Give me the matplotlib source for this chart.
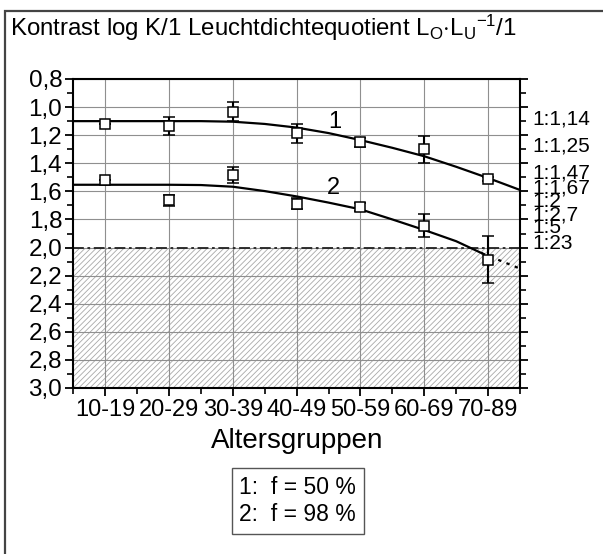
import matplotlib
matplotlib.use("Agg")
import matplotlib.pyplot as plt
from matplotlib.ticker import MultipleLocator, FixedLocator, FuncFormatter
import matplotlib.patches as mpatches

plt.rcParams['font.family'] = ['Liberation Sans', 'DejaVu Sans']
plt.rcParams['mathtext.fontset'] = 'custom'
plt.rcParams['mathtext.rm'] = 'Liberation Sans'
plt.rcParams['mathtext.it'] = 'Liberation Sans:italic'
plt.rcParams['mathtext.bf'] = 'Liberation Sans:bold'
plt.rcParams['hatch.color'] = '#a8a8a8'
plt.rcParams['hatch.linewidth'] = 0.6

# ---------------- data ----------------
categories = ["10-19", "20-29", "30-39", "40-49", "50-59", "60-69", "70-89"]
s1_values = [1.12, 1.134, 1.032, 1.186, 1.252, 1.300, 1.510]
s1_errors = [0.0, 0.066, 0.068, 0.067, 0.035, 0.097, 0.015]
s2_values = [1.522, 1.664, 1.482, 1.688, 1.712, 1.844, 2.086]
s2_errors = [0.0, 0.040, 0.059, 0.040, 0.030, 0.080, 0.166]

fit1_x = [0.5, 1.0, 1.5, 2.0, 2.5, 3.0, 3.5, 4.0, 4.5, 5.0, 5.5, 6.0, 6.5, 7.0, 7.5]
fit1_y = [1.100, 1.100, 1.100, 1.100, 1.100, 1.104, 1.120, 1.146, 1.185, 1.235, 1.290, 1.350, 1.425, 1.505, 1.590]
fit2_x = [0.5, 1.0, 1.5, 2.0, 2.5, 3.0, 3.5, 4.0, 4.5, 5.0, 5.5, 6.0, 6.5, 6.9]
fit2_y = [1.553, 1.553, 1.553, 1.553, 1.555, 1.567, 1.598, 1.636, 1.680, 1.728, 1.800, 1.875, 1.955, 2.040]
fit2_ext_x = [6.9, 7.5]
fit2_ext_y = [2.040, 2.150]

y_ticks = [0.8, 1.0, 1.2, 1.4, 1.6, 1.8, 2.0, 2.2, 2.4, 2.6, 2.8, 3.0]
right_labels = ["1:1,14", "1:1,25", "1:1,47", "1:1,67", "1:2", "1:2,7", "1:5", "1:23"]
right_label_pos = [1.086, 1.278, 1.470, 1.579, 1.671, 1.768, 1.860, 1.972]
limit_value = 2.0
curve_labels = ["1", "2"]
curve_label_pos = [(4.6, 1.103), (4.58, 1.577)]
legend_lines = ["1:  f = 50 %", "2:  f = 98 %"]

title = r"Kontrast log K/1 Leuchtdichtequotient L$_\mathregular{O}$$\cdot$L$_\mathregular{U}$$^\mathregular{-1}$/1"

# ---------------- figure ----------------
W, H = 603, 554
fig = plt.figure(figsize=(W / 100, H / 100), dpi=100)
ax = fig.add_axes([73.3 / W, 1 - 388 / H, (520 - 73.3) / W, (388 - 79) / H])

x = list(range(1, len(categories) + 1))

ax.set_xlim(0.5, len(categories) + 0.5)
ax.set_ylim(3.0, 0.8)

# hatched region
ax.fill_between([0.5, len(categories) + 0.5], limit_value, 3.0, facecolor='white',
                edgecolor='#a8a8a8', hatch='//////', linewidth=0, zorder=0.5)

# grid
for xi in x:
    ax.axvline(xi, color='#8f8f8f', lw=0.8, zorder=0.8)
for yt in y_ticks:
    ax.axhline(yt, color='#8f8f8f', lw=0.8, zorder=0.8)

ax.axhline(limit_value, color='#222222', lw=1.3, linestyle=(0, (6, 2, 1.5, 2)), zorder=2)

# fits
ax.plot(fit1_x, fit1_y, color='black', lw=1.6, zorder=3)
ax.plot(fit2_x, fit2_y, color='black', lw=1.6, zorder=3)
ax.plot(fit2_ext_x, fit2_ext_y, color='black', lw=1.6, linestyle=(0, (1.5, 2.5)), zorder=3)

# data with error bars
for vals, errs in ((s1_values, s1_errors), (s2_values, s2_errors)):
    ax.errorbar(x, vals, yerr=errs, fmt='s', mfc='white', mec='black', mew=1.1,
                ms=6.5, ecolor='black', elinewidth=1.5, capsize=4.5, capthick=1.5, zorder=4)

for lab, (lx, ly) in zip(curve_labels, curve_label_pos):
    ax.text(lx, ly, lab, fontsize=17, ha='center', va='center', zorder=5)

# axes styling
for sp in ax.spines.values():
    sp.set_linewidth(1.5)
    sp.set_zorder(6)

ax.xaxis.set_major_locator(FixedLocator(x))
ax.set_xticklabels(categories, fontsize=17)
ax.xaxis.set_minor_locator(FixedLocator([xi + 0.5 for xi in range(0, len(categories) + 1)]))
ax.yaxis.set_major_locator(FixedLocator(y_ticks))
ax.yaxis.set_minor_locator(MultipleLocator(0.1))
ax.yaxis.set_major_formatter(FuncFormatter(lambda v, p: f"{v:.1f}".replace('.', ',')))
ax.tick_params(axis='y', which='major', labelsize=17.5, length=6, width=1.3, direction='out',
               right=True, pad=2)
ax.tick_params(axis='y', which='minor', length=4, width=1.2, direction='out', right=True)
ax.tick_params(axis='x', which='major', length=6, width=1.3, direction='out', pad=2)
ax.tick_params(axis='x', which='minor', length=4, width=1.2, direction='out')
ax.tick_params(top=False, which='both')

ax.set_xlabel("Altersgruppen", fontsize=20, labelpad=5)

# right-hand ratio labels
for lab, pos in zip(right_labels, right_label_pos):
    ax.text(1.028, pos, lab, transform=ax.get_yaxis_transform(), fontsize=15,
            ha='left', va='center', clip_on=False)

# title
fig.text(10 / W, 1 - 36 / H, title, fontsize=17.3, ha='left', va='baseline')

# legend box
fig.text(0.5 * (226.7 + 368.3) / W, 1 - 501 / H, "\n".join(legend_lines), fontsize=16.5,
         ha='center', va='center', linespacing=1.25,
         bbox=dict(boxstyle='square,pad=0.33', facecolor='white', edgecolor='#555555', lw=1.0))

# outer frame (cut at right and bottom)
fig.patches.append(mpatches.Rectangle((4.5 / W, -0.05), 1.1, 1 - 10.5 / H + 0.05,
                                      transform=fig.transFigure, fill=False,
                                      edgecolor='#444444', lw=1.6))

fig.savefig("out.png", dpi=100)
